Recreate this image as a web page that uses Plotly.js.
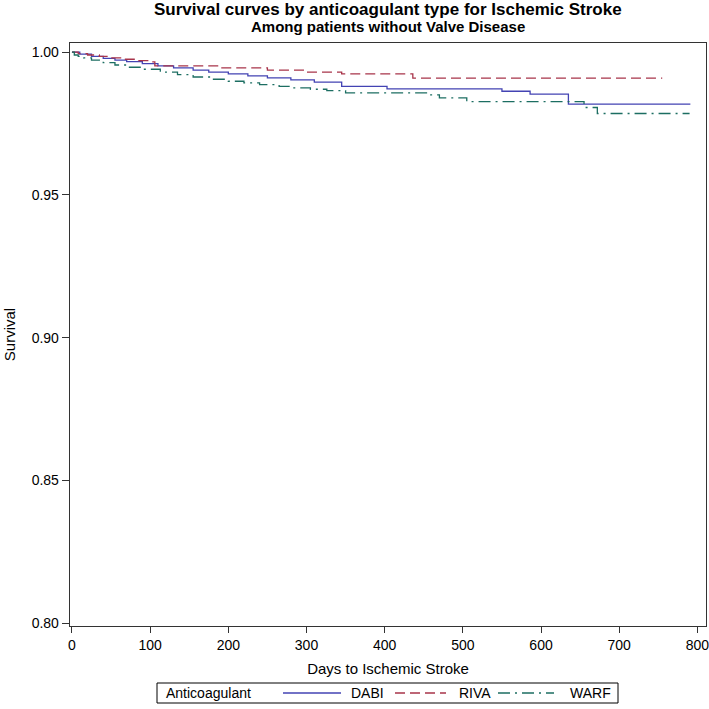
<!DOCTYPE html>
<html>
<head>
<meta charset="utf-8">
<script src="https://cdn.plot.ly/plotly-3.0.1.min.js"></script>
<style>html,body{margin:0;padding:0;background:#fff;}#chart{width:709px;height:709px;}</style>
</head>
<body>
<div id="chart"></div>
<script>
// Kaplan-Meier step curves
const dabiDays = [0, 10, 25, 40, 55, 70, 90, 110, 130, 155, 175, 200, 225, 250, 280, 310, 345, 403, 550, 586, 635, 791];
const dabiSurv = [1.0000, 0.9993, 0.9985, 0.9978, 0.9972, 0.9967, 0.9960, 0.9952, 0.9945, 0.9937, 0.9930, 0.9924, 0.9917, 0.9910, 0.9903, 0.9895, 0.9880, 0.9871, 0.9863, 0.9853, 0.9818, 0.9818];

const rivaDays = [0, 8, 20, 35, 50, 65, 85, 100, 106, 190, 250, 300, 345, 436, 755];
const rivaSurv = [1.0000, 0.9995, 0.9990, 0.9985, 0.9980, 0.9975, 0.9970, 0.9966, 0.9952, 0.9945, 0.9937, 0.9930, 0.9924, 0.9909, 0.9909];

const warfDays = [0, 3, 8, 15, 25, 40, 55, 70, 90, 113, 135, 155, 180, 200, 220, 240, 265, 283, 305, 326, 350, 455, 470, 505, 655, 672, 790];
const warfSurv = [1.0000, 0.9990, 0.9985, 0.9980, 0.9972, 0.9963, 0.9955, 0.9947, 0.9940, 0.9930, 0.9921, 0.9913, 0.9905, 0.9898, 0.9892, 0.9886, 0.9880, 0.9875, 0.9870, 0.9865, 0.9857, 0.9850, 0.9840, 0.9827, 0.9806, 0.9785, 0.9785];

const seriesNames = ["DABI", "RIVA", "WARF"];
const legendTitle = "Anticoagulant";
const xTicks = [0, 100, 200, 300, 400, 500, 600, 700, 800];
const yTicks = [0.80, 0.85, 0.90, 0.95, 1.00];

const FONT = "Liberation Sans, Arial, sans-serif";
const COLORS = ["#4343b3", "#a8344a", "#1c6e62"];
const DASHES = ["solid", "10px,5px", "12px,5px,2px,5px"];

const traces = [
  {x: dabiDays, y: dabiSurv, name: seriesNames[0], mode: "lines", line: {shape: "hv", color: COLORS[0], width: 1.3, dash: DASHES[0]}},
  {x: rivaDays, y: rivaSurv, name: seriesNames[1], mode: "lines", line: {shape: "hv", color: COLORS[1], width: 1.3, dash: DASHES[1]}},
  {x: warfDays, y: warfSurv, name: seriesNames[2], mode: "lines", line: {shape: "hv", color: COLORS[2], width: 1.3, dash: DASHES[2]}}
];

// pixel -> paper helpers (plot area: x 70..706, y 43..626)
const L = 70, R = 3, T = 43, B = 83, W = 709, H = 709;
const PW = W - L - R, PH = H - T - B;
const px = v => (v - L) / PW;
const py = v => (H - B - v) / PH;

// manual legend (box + samples + labels)
const legBox = {x0: 157, x1: 618, y0: 683, y1: 703};
const legMid = (legBox.y0 + legBox.y1) / 2;
const sampleX = [[283, 341], [395, 446], [498, 554]];
const labelX = [349, 457, 568];

const shapes = [
  {type: "rect", xref: "paper", yref: "paper", x0: px(legBox.x0), x1: px(legBox.x1), y0: py(legBox.y1), y1: py(legBox.y0),
   line: {color: "#000", width: 1}, fillcolor: "rgba(0,0,0,0)"}
];
const annotations = [
  {text: "<b>Survival curves by anticoagulant type for Ischemic Stroke</b>", xref: "paper", yref: "paper",
   x: 0.5, y: py(9), xanchor: "center", yanchor: "middle", showarrow: false, font: {size: 17, family: FONT}},
  {text: "<b>Among patients without Valve Disease</b>", xref: "paper", yref: "paper",
   x: 0.5, y: py(26), xanchor: "center", yanchor: "middle", showarrow: false, font: {size: 15, family: FONT}},
  {text: legendTitle, xref: "paper", yref: "paper", x: px(164), y: py(legMid), xanchor: "left", yanchor: "middle",
   showarrow: false, font: {size: 14, family: FONT}}
];
seriesNames.forEach((n, i) => {
  shapes.push({type: "line", xref: "paper", yref: "paper", x0: px(sampleX[i][0]), x1: px(sampleX[i][1]),
    y0: py(legMid), y1: py(legMid), line: {color: COLORS[i], width: 1.3, dash: DASHES[i]}});
  annotations.push({text: n, xref: "paper", yref: "paper", x: px(labelX[i]), y: py(legMid), xanchor: "left", yanchor: "middle",
    showarrow: false, font: {size: 14, family: FONT}});
});

const layout = {
  width: W, height: H,
  margin: {l: L, r: R, t: T, b: B, autoexpand: false},
  paper_bgcolor: "#fff", plot_bgcolor: "#fff",
  font: {family: FONT, color: "#000", size: 14},
  showlegend: false,
  xaxis: {
    range: [-2.5, 811], tickvals: xTicks, ticktext: xTicks.map(String),
    showline: true, mirror: true, linecolor: "#333", linewidth: 1.3,
    ticks: "outside", ticklen: 6, tickcolor: "#333", showgrid: false, zeroline: false,
    tickfont: {size: 14, family: FONT}, ticklabeloverflow: "allow",
    title: {text: "Days to Ischemic Stroke", font: {size: 15, family: FONT}, standoff: 11},
    automargin: false
  },
  yaxis: {
    range: [0.799, 1.0032], tickvals: yTicks, ticktext: yTicks.map(v => v.toFixed(2)),
    showline: true, mirror: true, linecolor: "#333", linewidth: 1.3,
    ticks: "outside", ticklen: 7, tickcolor: "#333", showgrid: false, zeroline: false,
    tickfont: {size: 14, family: FONT},
    title: {text: "Survival", font: {size: 15, family: FONT}, standoff: 12},
    automargin: false
  },
  shapes: shapes,
  annotations: annotations
};

Plotly.newPlot("chart", traces, layout, {displayModeBar: false, staticPlot: true});
</script>
</body>
</html>
